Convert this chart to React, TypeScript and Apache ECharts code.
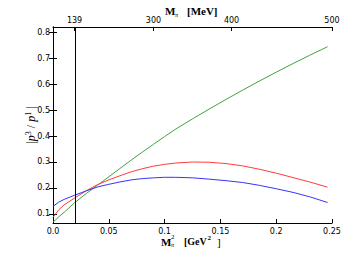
import React, { useEffect, useRef } from "react";
import * as echarts from "echarts";

const xs = [0, 0.005, 0.01, 0.0193, 0.03, 0.04, 0.05, 0.06, 0.07, 0.08, 0.09, 0.1, 0.11, 0.125, 0.14, 0.155, 0.17, 0.185, 0.2, 0.215, 0.23, 0.246];
const greenVals = [0.068, 0.088, 0.106, 0.143, 0.179, 0.211, 0.243, 0.275, 0.307, 0.338, 0.368, 0.398, 0.427, 0.466, 0.504, 0.541, 0.577, 0.612, 0.646, 0.679, 0.711, 0.744];
const redVals = [0.087, 0.115, 0.135, 0.161, 0.19, 0.213, 0.231, 0.247, 0.262, 0.274, 0.284, 0.291, 0.296, 0.3, 0.299, 0.294, 0.285, 0.272, 0.257, 0.24, 0.223, 0.203];
const blueVals = [0.129, 0.145, 0.156, 0.172, 0.189, 0.204, 0.214, 0.223, 0.231, 0.236, 0.239, 0.241, 0.241, 0.239, 0.234, 0.228, 0.221, 0.21, 0.197, 0.183, 0.166, 0.144];
const xTicks = [0, 0.05, 0.1, 0.15, 0.2, 0.25];
const yTicks = [0.1, 0.2, 0.3, 0.4, 0.5, 0.6, 0.7, 0.8];
const mevTicks = [139, 300, 400, 500];
const physPionMass = 139;

export default function App() {
  const ref = useRef<HTMLDivElement>(null);
  useEffect(() => {
    document.body.style.margin = "0";
    const chart = echarts.init(ref.current!, undefined, { renderer: "svg" });
    const topVals = mevTicks.map((m) => (m / 1000) * (m / 1000));
    const tickStyle = { show: true, inside: true, length: 4, lineStyle: { color: "#000", width: 1 } };
    const labelFont = { fontFamily: "DejaVu Sans", fontSize: 8, color: "#000" };
    const mk = (vals: number[]) => xs.map((x, i) => [x, vals[i]]);
    const serieBase = { type: "line", showSymbol: false, smooth: false, xAxisIndex: 0, yAxisIndex: 0 };
    chart.setOption({
      animation: false,
      grid: { left: 53, right: 18, top: 27, bottom: 41 },
      xAxis: [
        {
          type: "value", min: 0, max: 0.25, position: "bottom",
          axisLine: { lineStyle: { color: "#000", width: 1 } },
          axisTick: { ...tickStyle, customValues: xTicks },
          axisLabel: { ...labelFont, margin: 4, customValues: xTicks, formatter: (v: number) => (v === 0 ? "0.0" : String(+v.toFixed(2))) },
          splitLine: { show: false },
        },
        {
          type: "value", min: 0, max: 0.25, position: "top",
          axisLine: { lineStyle: { color: "#000", width: 1 } },
          axisTick: { ...tickStyle, customValues: topVals },
          axisLabel: { ...labelFont, margin: 3, customValues: topVals, formatter: (v: number) => String(Math.round(Math.sqrt(v) * 1000)) },
          splitLine: { show: false },
        },
      ],
      yAxis: [
        {
          type: "value", min: 0.065, max: 0.82, position: "left",
          axisLine: { show: true, lineStyle: { color: "#000", width: 1 } },
          axisTick: { ...tickStyle, customValues: yTicks },
          axisLabel: { ...labelFont, margin: 3, customValues: yTicks, formatter: (v: number) => String(+v.toFixed(1)) },
          splitLine: { show: false },
        },
        {
          type: "value", min: 0.065, max: 0.82, position: "right",
          axisLine: { show: true, lineStyle: { color: "#000", width: 1 } },
          axisTick: { ...tickStyle, customValues: yTicks },
          axisLabel: { show: false },
          splitLine: { show: false },
        },
      ],
      series: [
        {
          ...serieBase, name: "green", data: mk(greenVals), lineStyle: { color: "#3fa33f", width: 1 },
          markLine: {
            silent: true, symbol: "none", label: { show: false },
            lineStyle: { color: "#000", width: 1, type: "solid" },
            data: [{ xAxis: (physPionMass / 1000) ** 2 }],
          },
        },
        { ...serieBase, name: "red", data: mk(redVals), lineStyle: { color: "#ff3b3b", width: 1 } },
        { ...serieBase, name: "blue", data: mk(blueVals), lineStyle: { color: "#3434ff", width: 1 } },
      ],
      graphic: [
        { type: "text", x: 165, y: 5, style: { text: "M", font: "bold 11px 'Liberation Serif'", fill: "#000" } },
        { type: "text", x: 175, y: 12, style: { text: "π", font: "italic 6px 'Liberation Serif'", fill: "#000" } },
        { type: "text", x: 187, y: 5, style: { text: "[MeV]", font: "bold 11px 'Liberation Serif'", fill: "#000" } },
        { type: "text", x: 161, y: 236, style: { text: "M", font: "bold 11px 'Liberation Serif'", fill: "#000" } },
        { type: "text", x: 171, y: 233, style: { text: "2", font: "7px 'Liberation Serif'", fill: "#000" } },
        { type: "text", x: 171, y: 242, style: { text: "π", font: "italic 6px 'Liberation Serif'", fill: "#000" } },
        { type: "text", x: 184, y: 236, style: { text: "[GeV", font: "bold 10px 'Liberation Serif'", fill: "#000" } },
        { type: "text", x: 207.5, y: 234, style: { text: "2", font: "bold 7px 'Liberation Serif'", fill: "#000" } },
        { type: "text", x: 217, y: 236, style: { text: "]", font: "11px 'Liberation Serif'", fill: "#000" } },
        {
          type: "text", x: 31, y: 125, rotation: Math.PI / 2,
          style: {
            text: "{t||}{p|p}{s|3}{t| / }{p|p}{s|1}{t| |}",
            align: "center", verticalAlign: "middle",
            rich: {
              t: { font: "12px 'Liberation Serif'", fill: "#000" },
              p: { font: "italic 12px 'Liberation Serif'", fill: "#000" },
              s: { font: "8px 'Liberation Serif'", fill: "#000", verticalAlign: "top", padding: [0, 0, 6, 0] },
            },
          },
        },
      ],
    });
    return () => chart.dispose();
  }, []);
  return <div ref={ref} style={{ width: 350, height: 264 }} />;
}
